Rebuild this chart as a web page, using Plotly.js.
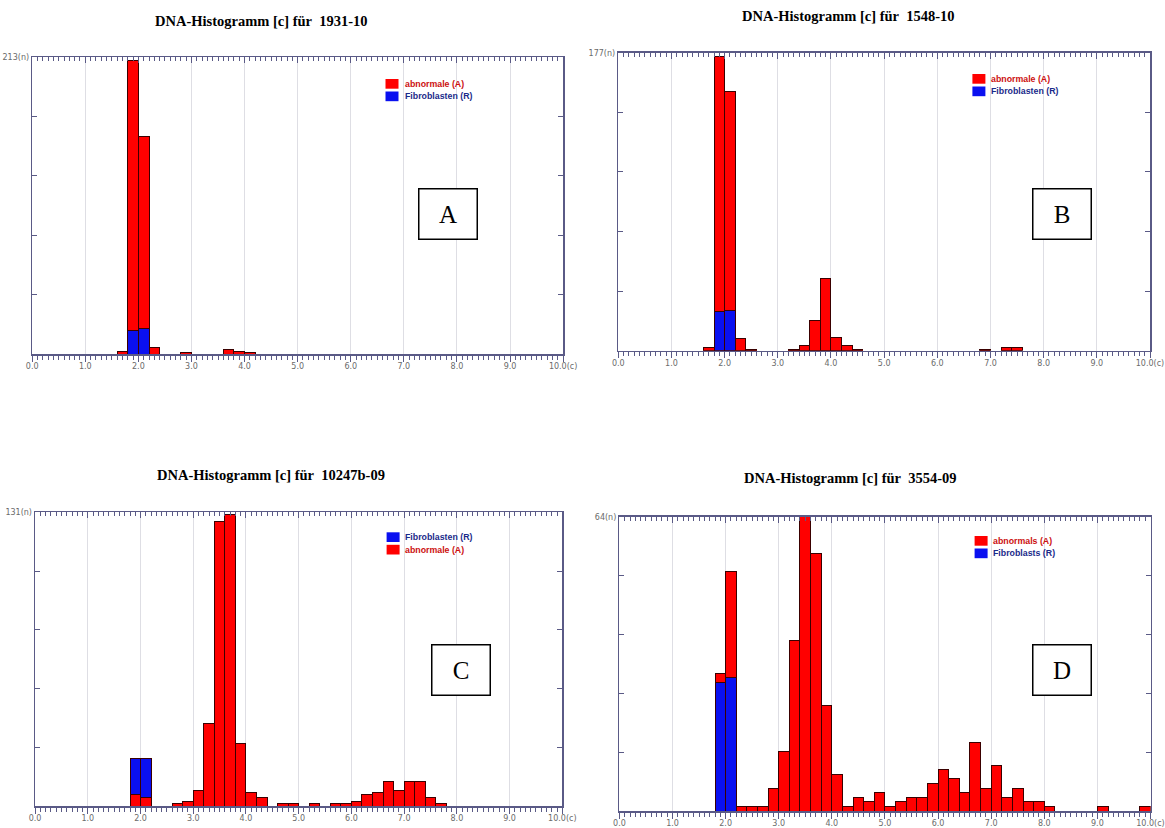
<!DOCTYPE html>
<html><head><meta charset="utf-8">
<script src="https://cdn.plot.ly/plotly-3.0.1.min.js"></script>
<style>html,body{margin:0;padding:0;background:#fff;} #chart{width:1165px;height:828px;}</style>
</head><body><div id="chart"></div>
<script>
// ---------- DATA (bin centres in c, counts per 0.2c bin) ----------
// Panel A: 1931-10
const aAbnX = [1.7, 1.9, 2.1, 2.3, 2.9, 3.7, 3.9, 4.1];
const aAbn  = [2, 194, 138, 5, 1, 3, 2, 1];
const aFibX = [1.9, 2.1];
const aFib  = [17, 18];
// Panel B: 1548-10
const bAbnX = [1.7, 1.9, 2.1, 2.3, 2.5, 3.3, 3.5, 3.7, 3.9, 4.1, 4.3, 4.5, 6.9, 7.3, 7.5];
const bAbn  = [2, 152, 130, 7, 1, 1, 3, 18, 43, 8, 3, 1, 1, 2, 2];
const bFibX = [1.9, 2.1];
const bFib  = [23, 24];
// Panel C: 10247b-09
const cAbnX = [1.9, 2.1, 2.7, 2.9, 3.1, 3.3, 3.5, 3.7, 3.9, 4.1, 4.3, 4.7, 4.9, 5.3, 5.7, 5.9, 6.1, 6.3, 6.5, 6.7, 6.9, 7.1, 7.3, 7.5, 7.7];
const cAbn  = [5, 4, 1, 2, 7, 37, 127, 130, 28, 6, 4, 1, 1, 1, 1, 1, 2, 5, 6, 11, 7, 11, 11, 4, 1];
const cFibX = [1.9, 2.1];
const cFib  = [16, 17];
// Panel D: 3554-09
const dAbnX = [1.9, 2.1, 2.3, 2.5, 2.7, 2.9, 3.1, 3.3, 3.5, 3.7, 3.9, 4.1, 4.3, 4.5, 4.7, 4.9, 5.1, 5.3, 5.5, 5.7, 5.9, 6.1, 6.3, 6.5, 6.7, 6.9, 7.1, 7.3, 7.5, 7.7, 7.9, 8.1, 9.1, 9.9];
const dAbn  = [2, 23, 1, 1, 1, 5, 13, 37, 64, 56, 23, 8, 1, 3, 2, 4, 1, 2, 3, 3, 6, 9, 7, 4, 15, 5, 10, 3, 5, 2, 2, 1, 1, 1];
const dFibX = [1.9, 2.1];
const dFib  = [28, 29];

const yMax = [213, 177, 131, 64];
const titles = ["DNA-Histogramm [c] für\u00a0\u00a01931-10", "DNA-Histogramm [c] für\u00a0\u00a01548-10",
                "DNA-Histogramm [c] für\u00a0\u00a010247b-09", "DNA-Histogramm [c] für\u00a0\u00a03554-09"];
const panelLetters = ["A", "B", "C", "D"];
const xTickVals = [0, 1, 2, 3, 4, 5, 6, 7, 8, 9, 10];
const xTickText = ["0.0", "1.0", "2.0", "3.0", "4.0", "5.0", "6.0", "7.0", "8.0", "9.0", "10.0(c)"];
const abnNames = ["abnormale (A)", "abnormale (A)", "abnormale (A)", "abnormals (A)"];
const fibNames = ["Fibroblasten (R)", "Fibroblasten (R)", "Fibroblasten (R)", "Fibroblasts (R)"];

// ---------- LAYOUT GEOMETRY (pixels) ----------
const W = 1165, H = 828;
const px = v => v / W, py = v => 1 - v / H;
const boxes = [ // left, right, top, bottom of plot areas
  [32.2, 563.1, 57.3, 354],
  [618.3, 1150, 52.7, 350.7],
  [35.1, 562.3, 512.3, 806],
  [619.4, 1150.5, 516.7, 811]
];
const titlePos = [[261.6, 21], [848.4, 16], [271.2, 475], [850.6, 478]];
const letterPos = [[448, 214], [1061.5, 214], [461.3, 670], [1061.9, 670]];
const legendPos = [ // square left, first square top, text x, first item
  [385.5, 79, 402.5, 'abn'], [972.4, 74, 989, 'abn'], [386.6, 532.3, 403.3, 'fib'], [974.6, 536, 991.2, 'abn']
];

const RED = '#ff0000', BLUE = '#0a10f0', EDGE = '#3a0000';
const AXC = '#5a5a86', GRID = '#dedee4';

const abnX = [aAbnX, bAbnX, cAbnX, dAbnX], abnY = [aAbn, bAbn, cAbn, dAbn];
const fibX = [aFibX, bFibX, cFibX, dFibX], fibY = [aFib, bFib, cFib, dFib];

const traces = [];
const layout = {
  width: W, height: H, margin: {l: 0, r: 0, t: 0, b: 0},
  paper_bgcolor: '#ffffff', plot_bgcolor: '#ffffff',
  barmode: 'stack', showlegend: false,
  annotations: [], shapes: []
};

for (let i = 0; i < 4; i++) {
  const n = i + 1, sfx = n === 1 ? '' : String(n);
  const xa = 'x' + sfx, ya = 'y' + sfx;
  const fibTrace = {type: 'bar', name: fibNames[i], x: fibX[i], y: fibY[i], width: 0.2,
    marker: {color: BLUE, line: {color: EDGE, width: 1}}, xaxis: xa, yaxis: ya};
  const abnTrace = {type: 'bar', name: abnNames[i], x: abnX[i], y: abnY[i], width: 0.2,
    marker: {color: RED, line: {color: EDGE, width: 1}}, xaxis: xa, yaxis: ya};
  // panel C: abnormal at bottom, fibroblasts on top; others: fibroblasts at bottom
  if (i === 2) { traces.push(abnTrace, fibTrace); } else { traces.push(fibTrace, abnTrace); }
  // top-axis helper (empty trace so the overlay axis is drawn)
  traces.push({type: 'scatter', x: [], y: [], xaxis: 'x' + (n + 4), yaxis: ya, showlegend: false, hoverinfo: 'skip'});

  const [l, r, t, b] = boxes[i];
  const xd = [px(l), px(r)], yd = [py(b), py(t)];
  layout['xaxis' + sfx] = {
    domain: xd, anchor: ya, range: [0, 10], fixedrange: true,
    tickmode: 'array', tickvals: xTickVals, ticktext: xTickText,
    ticks: 'outside', ticklen: 6, tickwidth: 1, tickcolor: AXC, ticklabelstandoff: -2,
    ticklabeloverflow: 'allow',
    minor: {tickmode: 'linear', tick0: 0, dtick: 0.1, ticks: 'outside', ticklen: 4, tickwidth: 1, tickcolor: AXC, showgrid: false},
    showgrid: true, gridcolor: GRID, gridwidth: 1, zeroline: false,
    showline: true, linecolor: AXC, linewidth: 1.5,
    tickfont: {family: 'DejaVu Sans', size: 8, color: '#6a6a6a'}
  };
  layout['xaxis' + (n + 4)] = {
    overlaying: xa, anchor: ya, side: 'top', range: [0, 10], fixedrange: true,
    tickmode: 'array', tickvals: xTickVals, showticklabels: false,
    ticks: 'inside', ticklen: 6, tickwidth: 1, tickcolor: AXC,
    minor: {tickmode: 'linear', tick0: 0, dtick: 0.1, ticks: 'inside', ticklen: 4, tickwidth: 1, tickcolor: AXC, showgrid: false},
    showgrid: false, zeroline: false, showline: true, linecolor: AXC, linewidth: 1.5
  };
  const yv = [0, 1, 2, 3, 4, 5].map(k => yMax[i] * k / 5);
  const yt = ['', '', '', '', '', yMax[i] + '(n)'];
  layout['yaxis' + sfx] = {
    domain: yd, anchor: xa, range: [0, yMax[i]], fixedrange: true,
    tickmode: 'array', tickvals: yv, ticktext: yt, ticklabeloverflow: 'allow',
    ticks: 'inside', ticklen: 5, tickwidth: 1, tickcolor: AXC, mirror: 'ticks',
    showgrid: false, zeroline: false, showline: true, linecolor: AXC, linewidth: 1.5,
    tickfont: {family: 'DejaVu Sans', size: 8, color: '#6a6a6a'}
  };

  // title
  layout.annotations.push({xref: 'paper', yref: 'paper', x: px(titlePos[i][0]), y: py(titlePos[i][1]),
    xanchor: 'center', yanchor: 'middle', showarrow: false, text: '<b>' + titles[i] + '</b>',
    font: {family: 'Liberation Serif', size: 14.5, color: '#000'}});
  // panel letter box
  layout.annotations.push({xref: 'paper', yref: 'paper', x: px(letterPos[i][0]), y: py(letterPos[i][1]),
    xanchor: 'center', yanchor: 'middle', showarrow: false, text: panelLetters[i],
    font: {family: 'Liberation Serif', size: 25, color: '#000'},
    width: 57, height: 49, borderpad: 0, bordercolor: '#000', borderwidth: 1.5, bgcolor: '#fff'});
  // legend (manual)
  const [sx, sy, tx, first] = legendPos[i];
  const items = first === 'abn'
    ? [[RED, abnNames[i], '#cc1010'], [BLUE, fibNames[i], '#1a2a8a']]
    : [[BLUE, fibNames[i], '#1a2a8a'], [RED, abnNames[i], '#cc1010']];
  items.forEach((it, k) => {
    const top = sy + k * 12.5;
    layout.shapes.push({type: 'rect', xref: 'paper', yref: 'paper', x0: px(sx), x1: px(sx + 13),
      y0: py(top + 9.7), y1: py(top), fillcolor: it[0], line: {width: 0}});
    layout.annotations.push({xref: 'paper', yref: 'paper', x: px(tx), y: py(top + 4.9),
      xanchor: 'left', yanchor: 'middle', showarrow: false, text: '<b>' + it[1] + '</b>',
      font: {family: 'Liberation Sans', size: 8.8, color: it[2]}});
  });
}

Plotly.newPlot('chart', traces, layout, {staticPlot: true, displayModeBar: false});
</script></body></html>
